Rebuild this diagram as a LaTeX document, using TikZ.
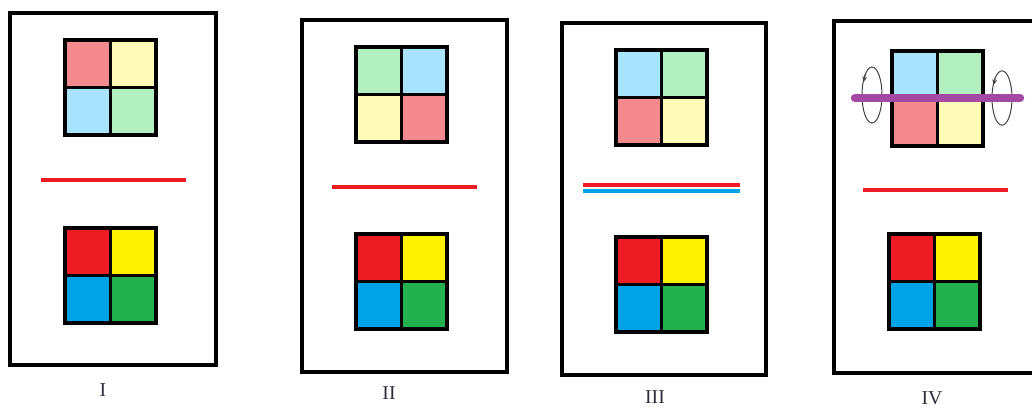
\documentclass[tikz,border=0pt]{standalone}
\usepackage{fontspec}
\setmainfont{Liberation Serif}
\usetikzlibrary{arrows.meta}
\definecolor{paleRed}{RGB}{245, 138, 142}
\definecolor{paleYellow}{RGB}{255, 250, 183}
\definecolor{paleBlue}{RGB}{168, 228, 253}
\definecolor{paleGreen}{RGB}{178, 240, 193}
\definecolor{fullRed}{RGB}{237, 28, 36}
\definecolor{fullYellow}{RGB}{255, 242, 0}
\definecolor{fullBlue}{RGB}{0, 162, 232}
\definecolor{fullGreen}{RGB}{34, 177, 76}
\definecolor{axisPurple}{RGB}{163, 73, 164}
\definecolor{labelInk}{RGB}{45, 45, 60}

% 2x2 tile block, #1,#2 = top left corner, then TL TR BL BR colours
\newcommand{\tiles}[6]{%
  \fill[#3] (#1,#2) rectangle ++(45.5,47.5);
  \fill[#4] (#1+45.5,#2) rectangle ++(45.5,47.5);
  \fill[#5] (#1,#2+47.5) rectangle ++(45.5,47.5);
  \fill[#6] (#1+45.5,#2+47.5) rectangle ++(45.5,47.5);
  \draw[tileline] (#1+45.5,#2) -- ++(0,95);
  \draw[tileline] (#1,#2+47.5) -- ++(91,0);
  \draw[tileline] (#1,#2) rectangle ++(91,95);
}

\begin{document}
\begin{tikzpicture}[
        x=0.025cm, y=-0.025cm,
        frame/.style={draw=black, line width=2.6pt},
        tileline/.style={draw=black, line width=2.6pt},
        mirror/.style={draw=fullRed, line width=2.6pt},
        spin/.style={draw=black!75, line width=0.7pt},
        panellabel/.style={text=labelInk, font=\fontsize{14}{16}\selectfont}
    ]
        \useasboundingbox (0,0) rectangle (1032,408);

        % Panel I
        \draw[frame] (10,13) rectangle (216,365);
        \tiles{65}{40}{paleRed}{paleYellow}{paleBlue}{paleGreen}
        \draw[mirror] (41,180) -- (186,180);
        \tiles{65}{228}{fullRed}{fullYellow}{fullBlue}{fullGreen}
        \node[panellabel] (lab1) at (103,390) {I};

        % Panel II
        \draw[frame] (302,20) rectangle (507,372);
        \tiles{356}{47}{paleGreen}{paleBlue}{paleYellow}{paleRed}
        \draw[mirror] (332,187) -- (477,187);
        \tiles{356}{234}{fullRed}{fullYellow}{fullBlue}{fullGreen}
        \node[panellabel] (lab2) at (389,393) {II};

        % Panel III
        \draw[frame] (562,23) rectangle (766,375);
        \tiles{616}{50}{paleBlue}{paleGreen}{paleRed}{paleYellow}
        \draw[mirror] (583,185) -- (740,185);
        \draw[draw=fullBlue, line width=2.8pt] (583,191) -- (740,191);
        \tiles{616}{237}{fullRed}{fullYellow}{fullBlue}{fullGreen}
        \node[panellabel] (lab3) at (655,397) {III};

        % Panel IV
        \draw[frame] (1034,21) -- (834,21) -- (834,373) -- (1034,373);
        \tiles{892}{51}{paleBlue}{paleGreen}{paleRed}{paleYellow}
        \draw[spin] (872,95) ellipse [x radius=0.25cm, y radius=0.7cm];
        \draw[spin] (1002,98) ellipse [x radius=0.25cm, y radius=0.68cm];
        \draw[spin, -{Stealth[length=4pt, width=3.5pt]}] (865.5,74) -- (863.4,82);
        \draw[spin, -{Stealth[length=4pt, width=3.5pt]}] (995.5,77) -- (993.4,85);
        \draw[draw=axisPurple, line width=6pt, line cap=round] (855,98) -- (1020,98);
        \draw[mirror] (863,190) -- (1008,190);
        \tiles{889}{234}{fullRed}{fullYellow}{fullBlue}{fullGreen}
        \node[panellabel] (lab4) at (932,398) {IV};
    \end{tikzpicture}
\end{document}
